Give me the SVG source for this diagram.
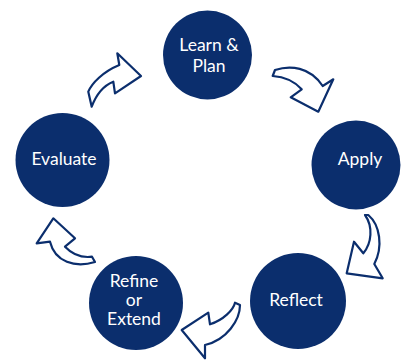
<svg xmlns="http://www.w3.org/2000/svg" width="405" height="360" viewBox="0 0 405 360">
<style>
.node circle{fill:#0b2e6d}
.node text{fill:#ffffff;font-family:Lato,"Open Sans","Liberation Sans",sans-serif;font-size:17.5px;text-anchor:middle}
.arrow{fill:#ffffff;stroke:#0b2e6d;stroke-width:2.2;stroke-linejoin:round;stroke-linecap:round}
</style>
<rect width="405" height="360" fill="#ffffff"/>
<g id="connectors">
<path class="arrow" d="M141,76 L117.3,53.3 L119.3,65 C103,71.7 91.7,83.3 88.3,91.7 L91.7,106.7 C96.7,93.3 105,85 113.3,81.7 L115,93.3 Z"/>
<path class="arrow" d="M275,70 C290,65 310,66.7 322.7,86 L333.3,79.3 L318.3,111.7 L290.7,97.3 L301.7,89.3 C293.3,80 283.3,76.7 272.7,76 Z"/>
<path class="arrow" d="M346.7,273.3 L354,241.7 L363.3,253.3 C371.7,243.3 373.3,226.7 365,215 L368.3,215 C380,225 383.3,246.7 374.3,264 L382.7,278.3 Z"/>
<path class="arrow" d="M181.7,330 L208.3,312.7 L210,324.3 C223.3,320 233.3,310 235,302.7 L240,305 C240,320 226.7,340 205,345 L205,358.3 Z"/>
<path class="arrow" d="M53.3,218.3 L75,238.3 L65,246.7 C72,254 82,258 92,256.7 L95,262 C75,268 55,262 50,241.7 L36.7,243.3 Z"/>
</g>
<g id="learn-plan" class="node">
<circle cx="207.5" cy="55" r="44.5"/>
<text x="209" y="51">Learn &amp;</text>
<text x="209" y="72">Plan</text>
</g>
<g id="apply" class="node">
<circle cx="356" cy="165" r="44.5"/>
<text x="360" y="165">Apply</text>
</g>
<g id="reflect" class="node">
<circle cx="298" cy="301" r="48"/>
<text x="296" y="306">Reflect</text>
</g>
<g id="refine-extend" class="node">
<circle cx="136" cy="303" r="47"/>
<text x="134" y="287">Refine</text>
<text x="134" y="306">or</text>
<text x="134" y="325">Extend</text>
</g>
<g id="evaluate" class="node">
<circle cx="62.5" cy="160" r="47"/>
<text x="64" y="165">Evaluate</text>
</g>
</svg>
